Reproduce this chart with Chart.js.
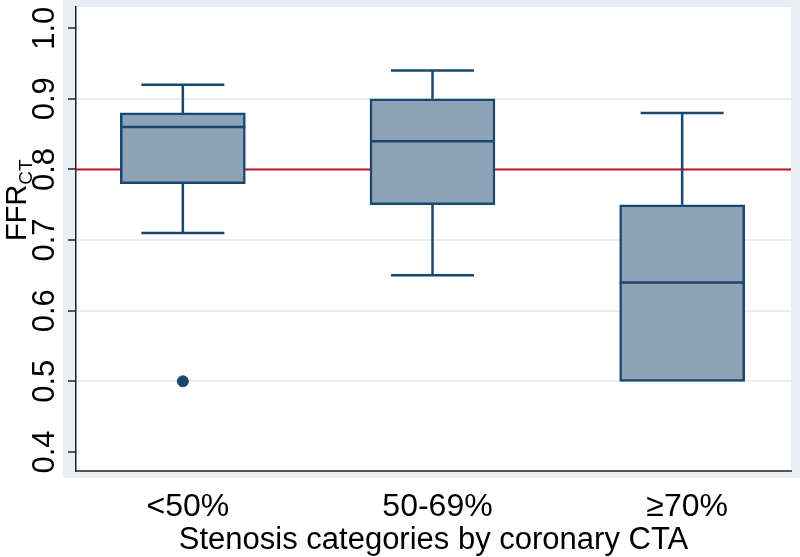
<!DOCTYPE html>
<html>
<head>
<meta charset="utf-8">
<title>FFRct by stenosis category</title>
<script src="https://cdn.jsdelivr.net/npm/chart.js@4.4.1/dist/chart.umd.min.js"></script>
<style>
  body { margin: 0; background: #ffffff; }
  #wrap { width: 800px; height: 557px; position: relative; }
</style>
</head>
<body>
<div id="wrap">
  <canvas id="chart"></canvas>
</div>
<script>
// values
const categories = ['<50%', '50-69%', '\u226570%'];
const lowerWhisker = [0.71, 0.65, 0.50];
const q1 = [0.78, 0.75, 0.50];
const medians = [0.86, 0.84, 0.64];
const q3 = [0.88, 0.90, 0.75];
const upperWhisker = [0.92, 0.94, 0.88];
const outliers = [[0.50], [], []];
const refValue = 0.8;
const yTicks = [0.4, 0.5, 0.6, 0.7, 0.8, 0.9, 1.0];
const gridTicks = [0.5, 0.6, 0.7, 0.8, 0.9];

const xMin = 0.572;
const xMax = 3.436;

const navy = '#1a476f';
const boxFill = '#8fa3b8';
const refRed = '#c8102e';
const lightBg = '#e8eef1';
const fontFamily = '"Liberation Sans", Arial, Helvetica, sans-serif';
const fontSize = 32;

// box dataset: floating bars from q1 to q3
const boxData = categories.map((c, i) => ({ x: i + 1, y: [q1[i], q3[i]] }));

let outlierData = [];
outliers.forEach((list, i) => {
  list.forEach(v => outlierData.push({ x: i + 1, y: v }));
});

const refLine = [{ x: xMin, y: refValue }, { x: xMax, y: refValue }];

// stata-like background: light graph region, white plot region
const backgroundPlugin = {
  id: 'stataBackground',
  beforeDraw(chart) {
    const { ctx, chartArea, width, height } = chart;
    ctx.save();
    ctx.fillStyle = '#ffffff';
    ctx.fillRect(0, 0, width, height);
    ctx.fillStyle = lightBg;
    ctx.fillRect(chartArea.left - 13, 0, width - (chartArea.left - 13), chartArea.bottom + 7);
    ctx.fillStyle = '#ffffff';
    ctx.fillRect(chartArea.left, chartArea.top, chartArea.right - chartArea.left, chartArea.bottom - chartArea.top);
    ctx.restore();
  }
};

// whiskers and median lines, placed with the chart scales
const boxPartsPlugin = {
  id: 'boxParts',
  afterDatasetsDraw(chart) {
    const ctx = chart.ctx;
    const xs = chart.scales.x;
    const ys = chart.scales.y;
    const bars = chart.getDatasetMeta(0).data;
    const capHalf = 41.5;
    ctx.save();
    ctx.strokeStyle = navy;
    ctx.lineCap = 'butt';
    categories.forEach((c, i) => {
      const cx = xs.getPixelForValue(i + 1);
      const yHi = ys.getPixelForValue(upperWhisker[i]);
      const yLo = ys.getPixelForValue(lowerWhisker[i]);
      const yQ1 = ys.getPixelForValue(q1[i]);
      const yQ3 = ys.getPixelForValue(q3[i]);
      ctx.lineWidth = 2.5;
      ctx.beginPath();
      ctx.moveTo(cx, yQ3);
      ctx.lineTo(cx, yHi);
      ctx.moveTo(cx - capHalf, yHi);
      ctx.lineTo(cx + capHalf, yHi);
      // no lower whisker when it sits on the box edge
      if (lowerWhisker[i] < q1[i]) {
        ctx.moveTo(cx, yQ1);
        ctx.lineTo(cx, yLo);
        ctx.moveTo(cx - capHalf, yLo);
        ctx.lineTo(cx + capHalf, yLo);
      }
      ctx.stroke();

      const bar = bars[i];
      const yMed = ys.getPixelForValue(medians[i]);
      ctx.lineWidth = 2.5;
      ctx.beginPath();
      ctx.moveTo(bar.x - bar.width / 2, yMed);
      ctx.lineTo(bar.x + bar.width / 2, yMed);
      ctx.stroke();
    });
    ctx.restore();
  }
};

// y axis title with subscript, FFR_CT
const yTitlePlugin = {
  id: 'yTitle',
  afterDraw(chart) {
    const ctx = chart.ctx;
    ctx.save();
    ctx.translate(26, 241);
    ctx.rotate(-Math.PI / 2);
    ctx.fillStyle = '#000000';
    ctx.textBaseline = 'alphabetic';
    ctx.textAlign = 'left';
    ctx.font = '29px ' + fontFamily;
    ctx.fillText('FFR', 0, 0);
    const w = ctx.measureText('FFR').width;
    ctx.font = '19px ' + fontFamily;
    ctx.fillText('CT', w, 6);
    ctx.restore();
  }
};

new Chart(document.getElementById('chart'), {
  type: 'bar',
  data: {
    datasets: [
      {
        type: 'bar',
        data: boxData,
        backgroundColor: boxFill,
        borderColor: navy,
        borderWidth: 2.5,
        borderSkipped: false,
        barThickness: 125,
        order: 1
      },
      {
        type: 'scatter',
        data: outlierData,
        backgroundColor: navy,
        borderColor: navy,
        pointRadius: 5.5,
        order: 0
      },
      {
        type: 'line',
        data: refLine,
        borderColor: refRed,
        borderWidth: 2,
        pointRadius: 0,
        order: 10
      }
    ]
  },
  options: {
    responsive: true,
    maintainAspectRatio: false,
    animation: false,
    layout: { padding: { top: 7, right: 9, left: 0, bottom: 0 } },
    plugins: {
      legend: { display: false },
      tooltip: { enabled: false }
    },
    scales: {
      x: {
        type: 'linear',
        min: xMin,
        max: xMax,
        offset: false,
        grid: { display: false, drawTicks: false },
        border: { display: true, color: '#555555', width: 2 },
        afterBuildTicks: (scale) => {
          scale.ticks = categories.map((c, i) => ({ value: i + 1 }));
        },
        afterFit: (scale) => {
          scale.height = 86;
          scale.paddingLeft = 0;
          scale.paddingRight = 0;
        },
        ticks: {
          padding: 17,
          labelOffset: 5,
          color: '#000000',
          font: { family: fontFamily, size: fontSize },
          callback: (v) => categories[Math.round(v) - 1]
        },
        title: {
          display: true,
          text: 'Stenosis categories by coronary CTA',
          color: '#000000',
          font: { family: fontFamily, size: 31, lineHeight: 1 },
          padding: { top: 0, bottom: 1 }
        }
      },
      y: {
        min: 0.373,
        max: 1.03,
        afterBuildTicks: (scale) => {
          scale.ticks = yTicks.map(v => ({ value: v }));
        },
        afterFit: (scale) => {
          scale.width = 76;
          scale.paddingTop = 0;
          scale.paddingBottom = 0;
        },
        grid: {
          drawTicks: true,
          tickLength: 8,
          tickColor: '#222222',
          tickWidth: 1.5,
          lineWidth: 2,
          color: (c) => (c.tick && gridTicks.includes(c.tick.value)) ? lightBg : 'rgba(0,0,0,0)'
        },
        border: { display: true, color: '#222222', width: 1.5 },
        ticks: {
          minRotation: 90,
          maxRotation: 90,
          crossAlign: 'center',
          padding: 1,
          color: '#000000',
          font: { family: fontFamily, size: 31 },
          callback: (v) => Number(v).toFixed(1)
        }
      }
    }
  },
  plugins: [backgroundPlugin, boxPartsPlugin, yTitlePlugin]
});
</script>
</body>
</html>
